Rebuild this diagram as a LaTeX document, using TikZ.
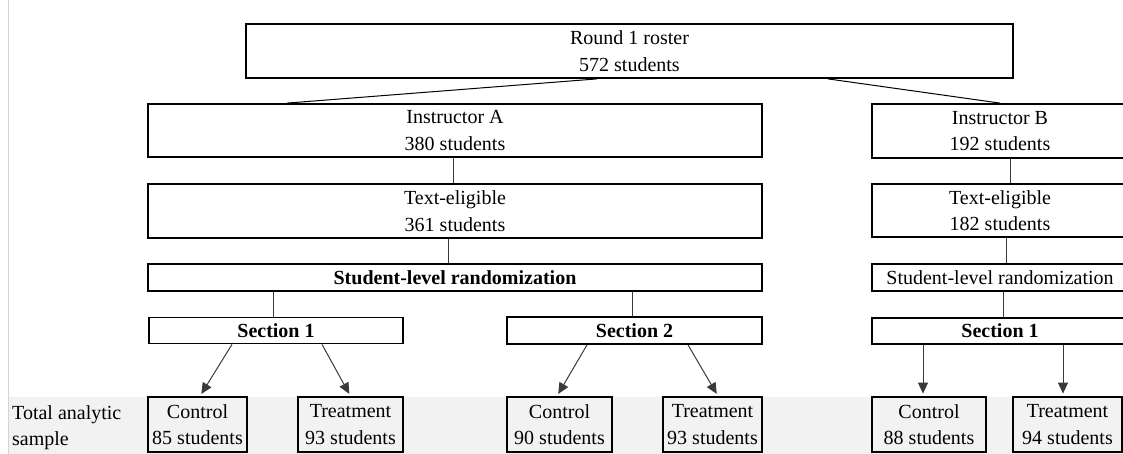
\documentclass[tikz,border=0pt]{standalone}
\usepackage{fontspec}
\setmainfont{Liberation Serif}
\usetikzlibrary{arrows.meta}
\definecolor{bandgray}{HTML}{F2F2F2}
\definecolor{rulegray}{HTML}{D4D4D4}
\definecolor{linkgray}{HTML}{3A3A3A}
\begin{document}
\begin{tikzpicture}[x=1pt,y=-1pt,
  box/.style={draw=black, line width=1.8pt, fill=white, inner sep=0pt, align=center,
    text depth=0pt, font={\fontsize{20}{26.5}\selectfont}},
  outbox/.style={box, fill=bandgray},
  link/.style={draw=linkgray, line width=1pt},
  arrowlink/.style={link, -{Triangle[width=10pt,length=11pt]}, shorten >=2.5pt},
  sidetext/.style={inner sep=0pt, align=left, anchor=west, text depth=0pt, font={\fontsize{20}{26.5}\selectfont}}
]
\useasboundingbox (0,0) rectangle (1123,454);
% bottom band and left rule
\fill[bandgray] (8,397) rectangle (1123,454);
\draw[rulegray, line width=1pt] (8,0) -- (8,454);

% boxes
\node[box, minimum width=767pt, minimum height=54pt] (top) at (629.5,51) {Round 1 roster\\572 students};
\node[box, minimum width=614pt, minimum height=53pt] (ia) at (455,130.5) {Instructor A\\380 students};
\node[box, minimum width=614pt, minimum height=54pt] (tea) at (455,211) {Text-eligible\\361 students};
\node[box, minimum width=614pt, minimum height=27pt] (ra) at (455,277.5) {\bfseries Student-level randomization};
\node[box, minimum width=254pt, minimum height=26pt] (s1a) at (276,330.5) {\bfseries Section 1};
\node[box, minimum width=255pt, minimum height=27pt] (s2a) at (634.5,330.5) {\bfseries Section 2};

\node[box, minimum width=256pt, minimum height=54pt] (ib) at (1000,131) {Instructor B\\192 students};
\node[box, minimum width=256pt, minimum height=53pt] (teb) at (1000,210.5) {Text-eligible\\182 students};
\node[box, minimum width=256pt, minimum height=27pt] (rb) at (1000,277.5) {Student-level randomization};
\node[box, minimum width=256pt, minimum height=26pt] (s1b) at (1000,331) {\bfseries Section 1};

\node[outbox, minimum width=99pt, minimum height=55pt] (c85) at (197.5,424.5) {Control\\85 students};
\node[outbox, minimum width=105pt, minimum height=55pt] (t93a) at (350.5,424.5) {Treatment\\93 students};
\node[outbox, minimum width=105pt, minimum height=55pt] (c90) at (559.5,424.5) {Control\\90 students};
\node[outbox, minimum width=99pt, minimum height=55pt] (t93b) at (712.5,424.5) {Treatment\\93 students};
\node[outbox, minimum width=114pt, minimum height=55pt] (c88) at (929,424.5) {Control\\88 students};
\node[outbox, minimum width=109pt, minimum height=55pt] (t94) at (1067.5,424.5) {Treatment\\94 students};

\node[sidetext] (tas) at (12,425.5) {Total analytic\\sample};

% connectors
\draw[link, draw=black] ([xshift=-32.5pt]top.south) -- ([xshift=-168pt]ia.north);
\draw[link, draw=black] ([xshift=198.5pt]top.south) -- (ib.north);

\draw[link] ([xshift=-2pt]ia.south) -- ([xshift=-2pt]tea.north);
\draw[link] ([xshift=-7pt]tea.south) -- ([xshift=-7pt]ra.north);
\draw[link] (ra.south -| s1a.north) ++(-3pt,0) -- ([xshift=-3pt]s1a.north);
\draw[link] (ra.south -| s2a.north) ++(-2.5pt,0) -- ([xshift=-2.5pt]s2a.north);

\draw[link] ([xshift=10pt]ib.south) -- ([xshift=10pt]teb.north);
\draw[link] ([xshift=6pt]teb.south) -- ([xshift=6pt]rb.north);
\draw[link] ([xshift=3pt]rb.south) -- ([xshift=3pt]s1b.north);

\draw[arrowlink] ([xshift=-44pt]s1a.south) -- ([xshift=2.5pt]c85.north);
\draw[arrowlink] ([xshift=46pt]s1a.south) -- (t93a.north);
\draw[arrowlink] ([xshift=-47.5pt]s2a.south) -- ([xshift=-2.5pt]c90.north);
\draw[arrowlink] ([xshift=53.5pt]s2a.south) -- ([xshift=5.5pt]t93b.north);
\draw[arrowlink] ([xshift=-77pt]s1b.south) -- ([xshift=-6pt]c88.north);
\draw[arrowlink] ([xshift=63pt]s1b.south) -- ([xshift=-4.5pt]t94.north);
\end{tikzpicture}
\end{document}
